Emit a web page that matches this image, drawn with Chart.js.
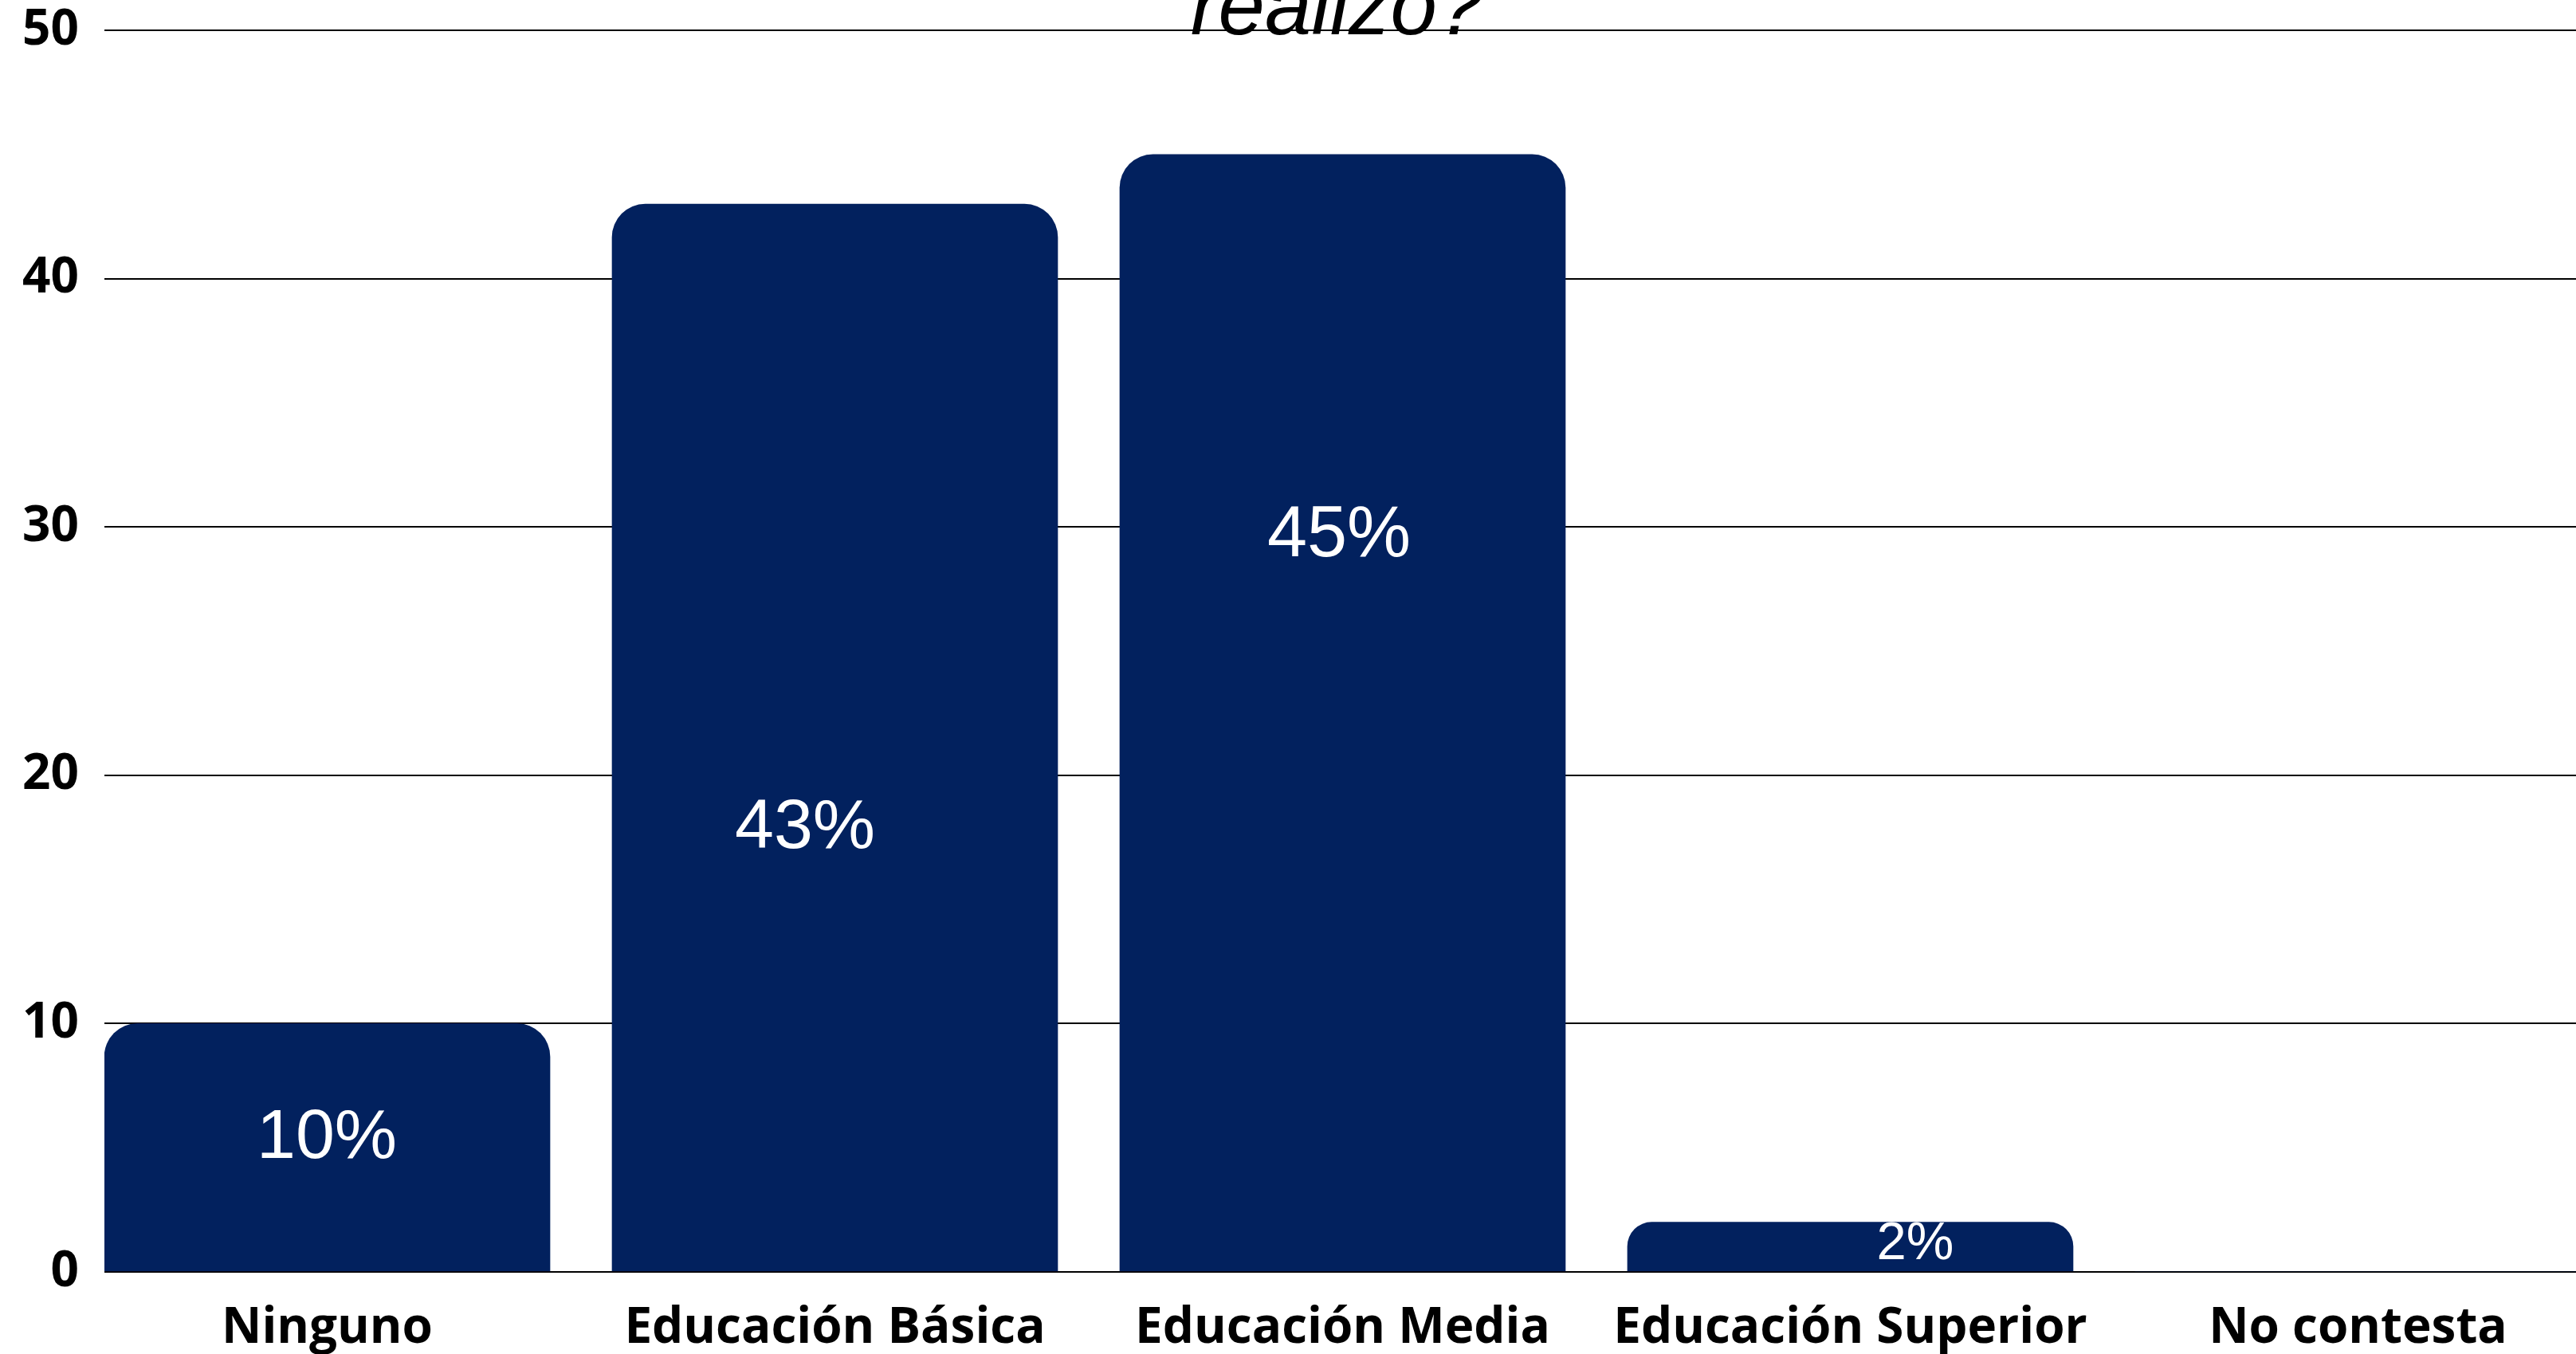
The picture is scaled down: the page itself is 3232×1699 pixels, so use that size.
<!DOCTYPE html>
<html lang="es">
<head>
<meta charset="utf-8">
<title>Nivel de estudios</title>
<script src="https://cdn.jsdelivr.net/npm/chart.js@4.4.1/dist/chart.umd.min.js"></script>
<style>
  html, body { margin: 0; padding: 0; background: #fff; overflow: hidden; }
  #wrap { width: 3232px; height: 1699px; }
</style>
</head>
<body>
<div id="wrap"><canvas id="estudiosChart" width="3232" height="1699"></canvas></div>
<script>
// Datos del gráfico
const categories = ['Ninguno', 'Educación Básica', 'Educación Media', 'Educación Superior', 'No contesta'];
const percentages = [10, 43, 45, 2, 0];
const yTicks = [0, 10, 20, 30, 40, 50];
const titleText = 'realizo?';

const barColor = '#02215e';
const tickFont = { family: '"Open Sans", sans-serif', size: 62, weight: 'bold' };

// Porcentajes en blanco dentro de cada barra
const percentLabels = {
    id: 'percentLabels',
    afterDatasetsDraw(chart, args, opts) {
        const ctx = chart.ctx;
        const meta = chart.getDatasetMeta(0);
        const yScale = chart.scales.y;
        ctx.save();
        ctx.fillStyle = opts.color;
        ctx.textAlign = 'center';
        ctx.textBaseline = 'alphabetic';
        meta.data.forEach((bar, i) => {
            const v = percentages[i];
            const p = opts.place[i];
            if (!v || !p) return;
            ctx.font = `${p.size}px "Liberation Sans", Arial, sans-serif`;
            ctx.fillText(v + '%', bar.x + p.dx, yScale.getPixelForValue(p.y));
        });
        ctx.restore();
    }
};

// Título (solo se ve la última línea, cortada arriba)
const cutTitle = {
    id: 'cutTitle',
    afterDraw(chart) {
        const { ctx, chartArea } = chart;
        ctx.save();
        ctx.font = 'italic 105px "Liberation Sans", Arial, sans-serif';
        ctx.fillStyle = '#000';
        ctx.textAlign = 'center';
        ctx.textBaseline = 'alphabetic';
        ctx.fillText(titleText, (chartArea.left + chartArea.right) / 2 - 4, chartArea.top + 5);
        ctx.restore();
    }
};

function drawChart() {
    const ctx = document.getElementById('estudiosChart').getContext('2d');
    new Chart(ctx, {
        type: 'bar',
        data: {
            datasets: [{
                data: percentages.map((v, i) => ({ x: i, y: v })),
                backgroundColor: barColor,
                borderRadius: { topLeft: 42, topRight: 42, bottomLeft: 0, bottomRight: 0 },
                borderSkipped: 'start',
                barThickness: 559
            }]
        },
        options: {
            responsive: false,
            animation: false,
            devicePixelRatio: 1,
            layout: { padding: { top: 38, right: 0, bottom: 0, left: 0 } },
            plugins: {
                legend: { display: false },
                tooltip: { enabled: false },
                title: { display: false },
                percentLabels: {
                    color: '#ffffff',
                    place: [
                        { dx: -0.5, y: 4.59, size: 88 },
                        { dx: -37.5, y: 17.07, size: 88 },
                        { dx: -4.5, y: 28.82, size: 90 },
                        { dx: 81.5, y: 0.51, size: 67 }
                    ]
                }
            },
            scales: {
                x: {
                    type: 'linear',
                    min: -0.4388,
                    max: 4.4294,
                    offset: false,
                    grid: { display: false, offset: false },
                    border: { display: false },
                    ticks: {
                        font: tickFont,
                        color: '#000',
                        padding: 26,
                        maxRotation: 0,
                        autoSkip: false,
                        callback: (value) => categories[value] ?? ''
                    },
                    afterBuildTicks: (scale) => {
                        scale.ticks = categories.map((c, i) => ({ value: i }));
                    },
                    afterFit: (scale) => {
                        scale.height = 103;
                        scale.paddingLeft = 0;
                        scale.paddingRight = 0;
                    }
                },
                y: {
                    min: yTicks[0],
                    max: yTicks[yTicks.length - 1],
                    grid: { color: '#000', lineWidth: 2, drawTicks: false },
                    border: { display: false },
                    ticks: {
                        font: tickFont,
                        color: '#000',
                        padding: 32
                    },
                    afterBuildTicks: (scale) => {
                        scale.ticks = yTicks.map(v => ({ value: v }));
                    },
                    afterFit: (scale) => {
                        scale.width = 131;
                        scale.paddingTop = 0;
                        scale.paddingBottom = 0;
                    }
                }
            }
        },
        plugins: [percentLabels, cutTitle]
    });
}

Promise.all([
    document.fonts.load('bold 62px "Open Sans"'),
    document.fonts.load('88px "Liberation Sans"'),
    document.fonts.load('italic 105px "Liberation Sans"')
]).then(drawChart, drawChart);
</script>
</body>
</html>
